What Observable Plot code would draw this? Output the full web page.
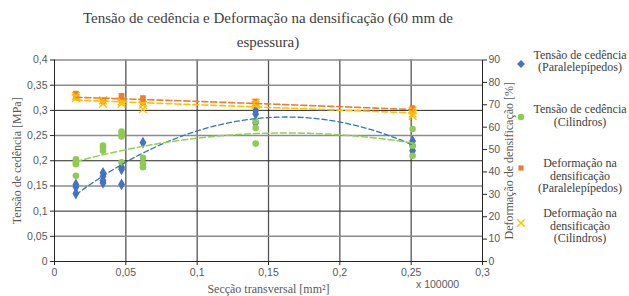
<!DOCTYPE html>
<html><head><meta charset="utf-8">
<script src="https://cdn.jsdelivr.net/npm/d3@7"></script>
<script src="https://cdn.jsdelivr.net/npm/@observablehq/plot@0.6"></script>
<style>
body{margin:0;background:#fff}
#wrap{position:relative;width:629px;height:296px;overflow:hidden;font-family:"Liberation Serif","Times New Roman",serif;color:#404040;background:#fff}
#title{position:absolute;left:54px;width:428px;top:6px;text-align:center;font-size:15px;line-height:24px;white-space:nowrap}
#mult{position:absolute;left:416px;top:278px;font-family:"Liberation Sans",sans-serif;font-size:10.5px;color:#595959}
.leg{position:absolute;left:531px;width:98px;text-align:center;font-size:12px;line-height:12.7px;white-space:nowrap}
.mk{position:absolute}
#chart{position:absolute;left:0;top:0}
g[aria-label$="axis label"] text{font-family:"Liberation Serif","Times New Roman",serif;font-size:12px}
</style>
</head><body>
<div id="wrap">
  <div id="chart"></div>
  <div id="title">Tensão de cedência e Deformação na densificação (60 mm de<br>espessura)</div>
  <div id="mult">x 100000</div>
  <div id="legend"></div>
</div>
<script>
// ---- data ----
const xCats = [0.015, 0.034, 0.047, 0.062, 0.141, 0.251];
// Tensão de cedência [MPa] - Paralelepípedos
const yieldPar = [[0.153,0.148,0.135],[0.176,0.169,0.161,0.156],[0.187,0.183,0.153],[0.236],[0.300,0.293,0.275],[0.239,0.230,0.220]];
// Tensão de cedência [MPa] - Cilindros
const yieldCil = [[0.203,0.197,0.193,0.170],[0.230,0.226,0.220],[0.258,0.253,0.248,0.197],[0.206,0.195,0.187],[0.278,0.265,0.234],[0.263,0.230,0.210]];
// Deformação na densificação [%] - Paralelepípedos
const defPar = [[75,73.5],[72,71.5],[74,72],[73,71],[71.5,70.5],[68.5,67]];
// Deformação na densificação [%] - Cilindros
const defCil = [[74,73],[72,70.5],[71.5,70.5],[70,68],[71,70],[67.5,66,65]];

const yTicks = [0,0.05,0.1,0.15,0.2,0.25,0.3,0.35,0.4];
const pctTicks = [0,10,20,30,40,50,60,70,80,90];
const xTicks = [0,0.05,0.1,0.15,0.2,0.25,0.3];
const gridDark = [0.1,0.2,0.3];
const gridGray = [0.05,0.15,0.25,0.35,0.4];
const gridX = [0.05,0.1,0.15,0.2,0.25];

const seriesNames = ["Tensão de cedência\n(Paralelepípedos)","Tensão de cedência\n(Cilindros)","Deformação na\ndensificação\n(Paralelepípedos)","Deformação na\ndensificação\n(Cilindros)"];
const colors = ["#4472C4","#8FCB4F","#ED7D31","#FFC000"];
const trendColors = ["#2E75B6","#92D050","#ED7D31","#FFC000"];

// ---- helpers ----
const k = 0.4/90; // right axis (%) -> left axis units
const fmt = d => String(+d.toFixed(3)).replace(".", ",");
const flat = (arr, scale=1) => arr.flatMap((vals,i) => vals.map(v => ({x:xCats[i], y:v*scale})));

function quadFit(pts){
  let n=pts.length,sx=0,sx2=0,sx3=0,sx4=0,sy=0,sxy=0,sx2y=0;
  for(const p of pts){const x=p.x,y=p.y;sx+=x;sx2+=x*x;sx3+=x*x*x;sx4+=x*x*x*x;sy+=y;sxy+=x*y;sx2y+=x*x*y;}
  const M=[[n,sx,sx2],[sx,sx2,sx3],[sx2,sx3,sx4]], B=[sy,sxy,sx2y];
  const det=m=>m[0][0]*(m[1][1]*m[2][2]-m[1][2]*m[2][1])-m[0][1]*(m[1][0]*m[2][2]-m[1][2]*m[2][0])+m[0][2]*(m[1][0]*m[2][1]-m[1][1]*m[2][0]);
  const D=det(M);
  const c=[0,1,2].map(j=>det(M.map((r,i)=>r.map((v,jj)=>jj===j?B[i]:v)))/D);
  const xs=pts.map(p=>p.x), x0=d3.min(xs), x1=d3.max(xs);
  return d3.range(101).map(i=>{const x=x0+(x1-x0)*i/100;return {x,y:c[0]+c[1]*x+c[2]*x*x};});
}

const sets = [flat(yieldPar), flat(yieldCil), flat(defPar,k), flat(defCil,k)];
const trends = sets.map(quadFit);

const plot = Plot.plot({
  width: 629, height: 296,
  marginLeft: 54, marginRight: 147, marginTop: 59.5, marginBottom: 35,
  style: {fontFamily: "Liberation Sans, Arial, sans-serif", fontSize: "10.5px", color: "#595959", background: "transparent"},
  x: {domain: [0, 0.3]},
  y: {domain: [0, 0.4]},
  marks: [
    Plot.ruleX(gridX, {stroke: "#555", strokeWidth: 1.3}),
    Plot.ruleY(gridGray, {stroke: "#8c8c8c", strokeWidth: 1.6}),
    Plot.ruleY(gridDark, {stroke: "#262626", strokeWidth: 1}),
    Plot.ruleX([0], {stroke: "#262626"}),
    Plot.ruleX([0.3], {stroke: "#262626"}),
    Plot.ruleY([0], {stroke: "#262626"}),
    Plot.axisY(yTicks, {anchor: "left", tickFormat: fmt, tickSize: 4, tickPadding: 3, stroke: "#262626",
      label: "Tensão de cedência [MPa]", labelAnchor: "center", labelArrow: "none", labelOffset: 42}),
    Plot.axisY(pctTicks.map(v => v*k), {anchor: "right", tickFormat: d => String(Math.round(d/k)), tickSize: 4, tickPadding: 2, stroke: "#262626",
      label: "Deformação de densificação [%]", labelAnchor: "center", labelArrow: "none", labelOffset: 30}),
    Plot.axisX(xTicks, {tickFormat: fmt, tickSize: 4, tickPadding: 3, stroke: "#262626",
      label: "Secção transversal [mm²]", labelAnchor: "center", labelArrow: "none", labelOffset: 31}),
    Plot.dot(sets[0], {x: "x", y: "y", symbol: "diamond", r: 3.6, fill: colors[0]}),
    Plot.dot(sets[1], {x: "x", y: "y", symbol: "circle", r: 3.3, fill: colors[1]}),
    Plot.dot(sets[2], {x: "x", y: "y", symbol: "square", r: 3.2, fill: colors[2]}),
    Plot.dot(sets[3], {x: "x", y: "y", symbol: "times", r: 3.6, stroke: colors[3], strokeWidth: 1.4}),
    Plot.line(trends[0], {x: "x", y: "y", stroke: trendColors[0], strokeWidth: 1.3, strokeDasharray: "5,3"}),
    Plot.line(trends[1], {x: "x", y: "y", stroke: trendColors[1], strokeWidth: 1.5, strokeDasharray: "6,3"}),
    Plot.line(trends[3], {x: "x", y: "y", stroke: trendColors[3], strokeWidth: 1.6, strokeDasharray: "6,3"}),
    Plot.line(trends[2], {x: "x", y: "y", stroke: trendColors[2], strokeWidth: 1.6, strokeDasharray: "6,3"})
  ]
});
document.getElementById("chart").appendChild(plot);

// ---- legend ----
const legTops = [48.5, 102.8, 156.8, 207];
const mkY = [64, 117, 168, 223];
const legend = document.getElementById("legend");
seriesNames.forEach((name,i) => {
  const t = document.createElement("div");
  t.className = "leg"; t.style.top = legTops[i] + "px";
  t.innerHTML = name.split("\n").join("<br>");
  legend.appendChild(t);
  const m = document.createElementNS("http://www.w3.org/2000/svg","svg");
  m.setAttribute("width",12); m.setAttribute("height",12);
  m.setAttribute("class","mk");
  m.style.left = (521-6)+"px"; m.style.top = (mkY[i]-6)+"px";
  const sym = d3.symbol(i===0?d3.symbolDiamond2:i===1?d3.symbolCircle:i===2?d3.symbolSquare2:d3.symbolX, i===1?34:i===0?40:i===2?34:40)();
  const p = document.createElementNS("http://www.w3.org/2000/svg","path");
  p.setAttribute("d", sym); p.setAttribute("transform","translate(6,6)");
  if(i===3){p.setAttribute("fill","none");p.setAttribute("stroke",colors[i]);p.setAttribute("stroke-width",1.4);}
  else p.setAttribute("fill",colors[i]);
  m.appendChild(p);
  legend.appendChild(m);
});
</script>
</body></html>
